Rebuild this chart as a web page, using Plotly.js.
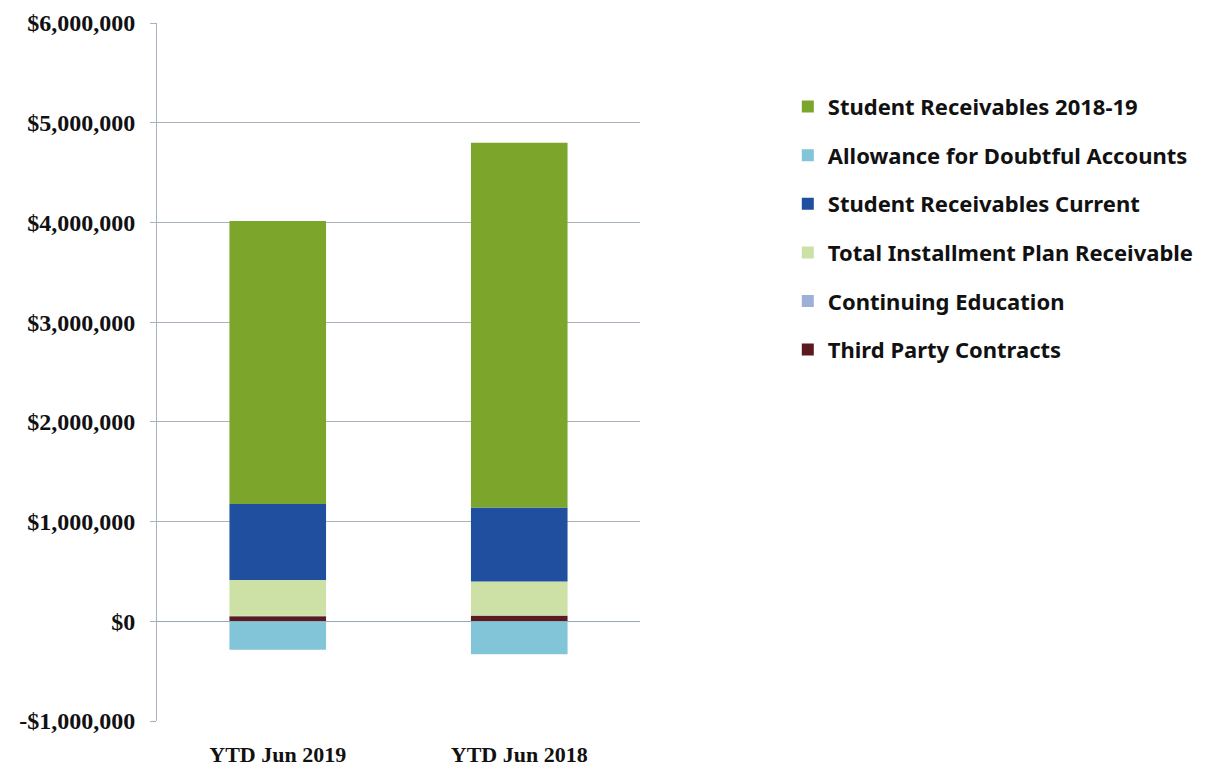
<!DOCTYPE html>
<html>
<head>
<meta charset="utf-8">
<script src="https://cdn.plot.ly/plotly-3.0.1.min.js"></script>
<style>html,body{margin:0;padding:0;background:#fff;}#chart{width:1226px;height:769px;}</style>
</head>
<body>
<div id="chart"></div>
<script>
const categories = ["YTD Jun 2019", "YTD Jun 2018"];
const thirdParty = [50000, 55000];
const continuingEd = [5000, 5000];
const installment = [360000, 340000];
const current = [760000, 740000];
const allowance = [-285000, -330000];
const receivables2018_19 = [2840000, 3660000];
const yTickVals = [-1000000, 0, 1000000, 2000000, 3000000, 4000000, 5000000, 6000000];
const yTickText = ["-$1,000,000", "$0", "$1,000,000", "$2,000,000", "$3,000,000", "$4,000,000", "$5,000,000", "$6,000,000"];

const series = [
  {name: "Third Party Contracts", y: thirdParty, color: "#5c1a1e"},
  {name: "Continuing Education", y: continuingEd, color: "#9cb0d8"},
  {name: "Total Installment Plan Receivable", y: installment, color: "#cde0a6"},
  {name: "Student Receivables Current", y: current, color: "#1f4f9e"},
  {name: "Allowance for Doubtful Accounts", y: allowance, color: "#82c5d9"},
  {name: "Student Receivables 2018-19", y: receivables2018_19, color: "#7ca52c"}
];

const traces = series.map((s, i) => ({
  type: "bar",
  x: categories,
  y: s.y,
  name: s.name,
  legendgroup: "g" + i,
  legendrank: 100 - i,
  marker: {color: s.color, line: {width: 0}},
  hoverinfo: "name+y"
}));

const layout = {
  width: 1226,
  height: 769,
  margin: {l: 157, r: 586, t: 23, b: 48},
  paper_bgcolor: "#ffffff",
  plot_bgcolor: "#ffffff",
  barmode: "relative",
  bargap: 0.6,
  showlegend: true,
  legend: {
    x: 1.306, xanchor: "left",
    y: 0.91, yanchor: "top",
    traceorder: "grouped",
    tracegroupgap: 17,
    font: {family: "Noto Sans, Lato, sans-serif", size: 22, color: "#111", weight: "bold"},
    bgcolor: "rgba(0,0,0,0)"
  },
  xaxis: {
    type: "category",
    showgrid: false,
    showline: false,
    ticks: "",
    tickfont: {family: "Liberation Serif, serif", size: 22, color: "#111", weight: "bold"},
    ticklabelstandoff: 18
  },
  yaxis: {
    range: [-1000000, 6000000],
    tickvals: yTickVals,
    ticktext: yTickText,
    showgrid: true,
    gridcolor: "#a9b3c0",
    gridwidth: 1,
    zeroline: true,
    zerolinecolor: "#9aa5b4",
    zerolinewidth: 1.5,
    showline: true,
    linecolor: "#a9b3c0",
    linewidth: 1,
    ticks: "outside",
    ticklen: 6,
    tickcolor: "#a9b3c0",
    ticklabelstandoff: 10,
    tickfont: {family: "Liberation Serif, serif", size: 24, color: "#111", weight: "bold"}
  }
};

Plotly.newPlot("chart", traces, layout, {displayModeBar: false, staticPlot: true});
</script>
</body>
</html>
